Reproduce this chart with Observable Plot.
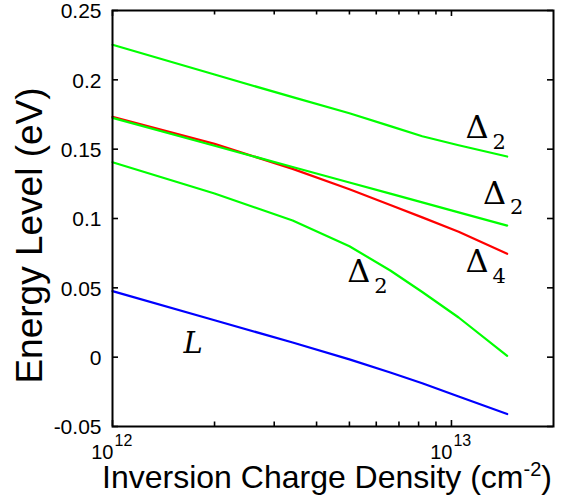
<!DOCTYPE html>
<html><head><meta charset="utf-8">
<script src="https://cdn.jsdelivr.net/npm/d3@7"></script>
<script src="https://cdn.jsdelivr.net/npm/@observablehq/plot@0.6"></script>
<style>
html,body{margin:0;padding:0;background:#fff;}
#chart svg{display:block;}
</style></head><body><div id="chart"></div>
<script>
// ---- data ----
const density = [1e12, 2e12, 3.4e12, 5e12, 6.6e12, 8.2e12, 1.05e13, 1.46e13];
const delta2Upper  = [0.2253, 0.2038, 0.1875, 0.1759, 0.1666, 0.1593, 0.1528, 0.1447];
const delta2Middle = [0.1726, 0.1525, 0.1371, 0.1260, 0.1179, 0.1116, 0.1044, 0.0949];
const delta4       = [0.1733, 0.1538, 0.1358, 0.1211, 0.1097, 0.1008, 0.0905, 0.0745];
const delta2Lower  = [0.1406, 0.1180, 0.0985, 0.0800, 0.0625, 0.0470, 0.0286, 0.0010];
const valleyL      = [0.0476, 0.0266, 0.0106, -0.0016, -0.0111, -0.0188, -0.0284, -0.0410];

const seriesNames  = ["Δ4", "Δ2 upper", "Δ2 middle", "Δ2 lower", "L"];
const seriesValues = [delta4, delta2Upper, delta2Middle, delta2Lower, valleyL];
const seriesColors = ["#ff0000", "#00ff00", "#00ff00", "#00ff00", "#0000ff"];

const yTicks = [-0.05, 0, 0.05, 0.1, 0.15, 0.2, 0.25];
const xMajorTicks = [1e12, 1e13];
const xMinorTicks = [2e12, 3e12, 4e12, 5e12, 6e12, 7e12, 8e12, 9e12];

// curve labels: Δ with subscript, and italic L
const deltaSubs    = ["2", "2", "4", "2"];
const deltaDensity = [11.0e12, 12.38e12, 11.0e12, 4.93e12];
const deltaEnergy  = [0.1577, 0.1108, 0.0614, 0.0542];
const lLabel = {text: "L", n: 1.62e12, e: 0.0032};

const xTitle = "Inversion Charge Density (cm^-2^)";
const yTitle = "Energy Level (eV)";

// ---- build tables ----
const lineRows = seriesNames.flatMap((name, i) =>
  density.map((n, j) => ({series: name, n, e: seriesValues[i][j]})));
const deltaRows = deltaSubs.map((s, i) => ({sub: s, n: deltaDensity[i], e: deltaEnergy[i]}));

const W = 561, H = 499;
const mL = 112, mR = 8, mT = 10, mB = 73;
const innerH = H - mT - mB, innerW = W - mL - mR;
const tickLenMinor = 4.5, tickLenMajor = 6;
const serif = "DejaVu Serif";

const chart = Plot.plot({
  width: W, height: H,
  marginLeft: mL, marginRight: mR, marginTop: mT, marginBottom: mB,
  style: {fontFamily: "Liberation Sans", background: "white", color: "black"},
  x: {type: "log", domain: [1e12, 2e13], axis: null},
  y: {domain: [-0.05, 0.25], axis: null},
  color: {domain: seriesNames, range: seriesColors},
  marks: [
    // inward ticks, bottom & top
    Plot.tickX(xMinorTicks, {x: d => d, stroke: "black", strokeWidth: 1.6, insetTop: innerH - tickLenMinor}),
    Plot.tickX(xMinorTicks, {x: d => d, stroke: "black", strokeWidth: 1.6, insetBottom: innerH - tickLenMinor}),
    Plot.tickX(xMajorTicks, {x: d => d, stroke: "black", strokeWidth: 1.6, insetTop: innerH - tickLenMajor}),
    Plot.tickX(xMajorTicks, {x: d => d, stroke: "black", strokeWidth: 1.6, insetBottom: innerH - tickLenMajor}),
    // inward ticks, left & right
    Plot.tickY(yTicks, {y: d => d, stroke: "black", strokeWidth: 1.6, insetRight: innerW - tickLenMajor}),
    Plot.tickY(yTicks, {y: d => d, stroke: "black", strokeWidth: 1.6, insetLeft: innerW - tickLenMajor}),
    // y tick labels
    Plot.axisY({ticks: yTicks, tickSize: 0, tickPadding: 11, fontSize: 21, label: null, dy: 1,
      tickFormat: d => String(+d.toFixed(2))}),
    // x tick labels 10^k
    Plot.text(xMajorTicks, {x: d => d, frameAnchor: "bottom", text: () => "10", textAnchor: "end",
      lineAnchor: "bottom", dy: 32, dx: 1, fontSize: 20, fill: "black"}),
    Plot.text(xMajorTicks, {x: d => d, frameAnchor: "bottom", text: d => String(Math.round(Math.log10(d))),
      textAnchor: "start", lineAnchor: "bottom", dy: 19, dx: 2, fontSize: 16, fill: "black"}),
    // curves
    Plot.line(lineRows, {x: "n", y: "e", z: "series", stroke: "series", strokeWidth: 2.2}),
    Plot.frame({stroke: "black", strokeWidth: 2}),
    // curve labels
    Plot.text(deltaRows, {x: "n", y: "e", text: () => "Δ", textAnchor: "start", lineAnchor: "bottom",
      dx: 0, fontSize: 32, fontFamily: serif, fill: "black"}),
    Plot.text(deltaRows, {x: "n", y: "e", text: "sub", textAnchor: "start", lineAnchor: "bottom",
      dx: 27, dy: 10.5, fontSize: 21, fontFamily: serif, fill: "black"}),
    Plot.text([lLabel], {x: "n", y: "e", text: "text", textAnchor: "start", lineAnchor: "bottom",
      fontSize: 29, fontFamily: serif, fontStyle: "italic", fill: "black"}),
    // axis titles
    Plot.text([xTitle], {frameAnchor: "bottom", text: d => d, textAnchor: "middle", lineAnchor: "bottom",
      dy: 61, dx: -6, fontSize: 32, fill: "black"}),
    Plot.text([yTitle], {frameAnchor: "left", text: d => d, textAnchor: "middle", lineAnchor: "bottom",
      rotate: -90, dx: -71, dy: 17, fontSize: 37, fill: "black"})
  ]
});

// superscript markup "^...^" -> tspans
chart.querySelectorAll("text").forEach(t => {
  const s = t.textContent;
  if (!s.includes("^")) return;
  const parts = s.split("^");
  t.textContent = "";
  parts.forEach((p, i) => {
    if (!p) return;
    const ts = document.createElementNS("http://www.w3.org/2000/svg", "tspan");
    ts.textContent = p;
    if (i % 2 === 1) { ts.setAttribute("dy", "-12"); ts.setAttribute("font-size", "20"); }
    else if (i > 0) { ts.setAttribute("dy", "12"); }
    t.appendChild(ts);
  });
});

document.getElementById("chart").appendChild(chart);
</script>
</body></html>
